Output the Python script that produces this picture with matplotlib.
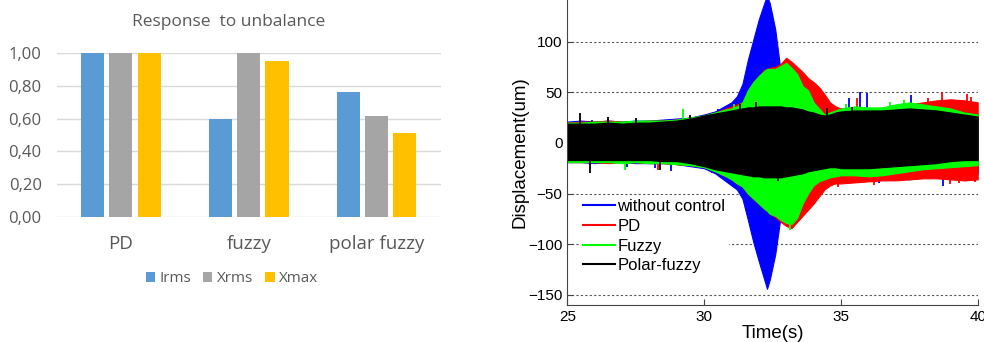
import matplotlib
matplotlib.use("Agg")
import matplotlib.pyplot as plt
from matplotlib.lines import Line2D

# ---- left panel data (bar chart) ----
categories = ["PD", "fuzzy", "polar fuzzy"]
irms = [1.00, 0.60, 0.76]
xrms = [1.00, 1.00, 0.615]
xmax = [1.00, 0.95, 0.51]
bar_ticks = [0.0, 0.2, 0.4, 0.6, 0.8, 1.0]
bar_tick_labels = ["0,00", "0,20", "0,40", "0,60", "0,80", "1,00"]

# ---- right panel data (displacement envelopes) ----
t = [25, 25.5, 26, 26.5, 27, 27.5, 28, 28.5, 29, 29.5, 30, 30.4, 30.8,
     31.0, 31.2, 31.4, 31.6, 31.8, 32.0, 32.2, 32.3, 32.4, 32.6, 32.8,
     33.0, 33.2, 33.4, 33.6, 33.8, 34.0, 34.2, 34.4, 34.6, 34.8, 35.0,
     35.5, 36, 36.5, 37, 37.5, 38, 38.5, 39, 39.5, 40]

nc_up = [21, 22, 21, 22, 21, 22, 22, 23, 24, 25, 28, 31, 37,
         40, 46, 58, 82, 102, 122, 138, 145, 138, 112, 70,
         50, 40, 38, 36, 36, 35, 34, 33, 33, 33, 34,
         34, 34, 33, 34, 36, 36, 35, 32, 30, 28]
nc_lo = [-19, -19, -20, -19, -19, -20, -20, -20, -21, -23, -25, -30, -38,
         -42, -46, -55, -76, -98, -117, -135, -144, -135, -110, -72,
         -45, -38, -36, -36, -36, -36, -36, -36, -36, -36, -36,
         -36, -35, -35, -35, -36, -34, -33, -32, -31, -30]

pd_up = [20, 21, 21, 22, 21, 21, 22, 22, 23, 25, 27, 30, 34,
         36, 38, 40, 50, 60, 66, 72, 73, 74, 75, 78,
         84, 80, 75, 70, 64, 60, 55, 48, 40, 36, 34,
         34, 33, 33, 35, 38, 40, 42, 43, 42, 40]
pd_lo = [-19, -19, -19, -20, -19, -19, -20, -20, -21, -22, -24, -28, -33,
         -36, -40, -43, -50, -55, -60, -65, -67, -70, -73, -78,
         -82, -84, -78, -72, -66, -60, -53, -46, -42, -40, -40,
         -39, -38, -37, -37, -36, -35, -35, -36, -37, -36]

fz_up = [20, 20, 21, 21, 21, 22, 22, 22, 23, 25, 27, 30, 33,
         34, 36, 40, 52, 60, 66, 71, 73, 73, 73, 76,
         79, 74, 68, 56, 52, 40, 34, 28, 30, 32, 34,
         36, 35, 35, 38, 40, 38, 36, 34, 30, 28]
fz_lo = [-19, -19, -19, -19, -20, -19, -20, -20, -21, -22, -24, -28, -33,
         -36, -40, -43, -50, -55, -60, -65, -67, -70, -72, -76,
         -79, -80, -74, -60, -50, -42, -38, -36, -34, -33, -32,
         -32, -33, -32, -30, -28, -26, -25, -24, -23, -22]

pf_up = [19, 19, 19, 20, 19, 20, 20, 21, 22, 24, 27, 29, 31,
         32, 33, 34, 35, 35, 36, 36, 36, 36, 36, 36,
         35, 35, 34, 33, 31, 30, 28, 27, 28, 30, 31,
         32, 32, 32, 33, 34, 33, 32, 30, 28, 26]
pf_lo = [-17, -17, -17, -17, -17, -17, -17, -18, -18, -20, -23, -26, -28,
         -29, -30, -31, -32, -33, -33, -34, -34, -34, -34, -34,
         -33, -32, -31, -30, -28, -27, -26, -25, -24, -24, -25,
         -25, -25, -24, -23, -22, -21, -20, -18, -17, -17]

# isolated peaks that stick out of the envelopes
nc_spike_t = [25.9, 27.2, 28.2, 28.8, 30.3, 30.5, 35.3, 35.7, 35.97, 36.4, 37.58, 38.74]
nc_spike_v = [23, -24, -25, -28, -30, 33, 44, 50, 49, -40, 47, -43]
pd_spike_t = [26.5, 28.3, 34.9, 35.6, 36.2, 38.2, 38.68, 39.0, 39.3, 39.6, 39.75, 39.9]
pd_spike_v = [24, -27, -44, 44, -42, 44, 50, -41, -40, 48, 45, -39]
fz_spike_t = [27.1, 29.24, 30.9, 31.1, 33.13, 34.3, 35.2, 36.8, 37.3]
fz_spike_v = [-27, 33, -34, 38, -86, -38, 38, 40, 42]
pf_spike_t = [25.46, 25.83, 26.5, 27.5, 28.4, 29.5, 31.3, 31.9, 32.7, 34.5, 35.4]
pf_spike_v = [29, -30, 26, 25, -27, 28, 38, 40, -38, 34, 35]

series = [
    ("without control", "#0000ff", nc_up, nc_lo, nc_spike_t, nc_spike_v),
    ("PD", "#ff0000", pd_up, pd_lo, pd_spike_t, pd_spike_v),
    ("Fuzzy", "#00ff00", fz_up, fz_lo, fz_spike_t, fz_spike_v),
    ("Polar-fuzzy", "#000000", pf_up, pf_lo, pf_spike_t, pf_spike_v),
]

fig = plt.figure(figsize=(9.84, 3.42), dpi=100)

# ---------------- left: bar chart ----------------
grey = "#595959"
ax1 = fig.add_axes([0.0579, 0.3655, 0.390, 0.4795])
x = list(range(len(categories)))
w = 0.18
off = 0.22
ax1.bar([i - off for i in x], irms, w, color="#5b9bd5", label="Irms", zorder=3)
ax1.bar(x, xrms, w, color="#a5a5a5", label="Xrms", zorder=3)
ax1.bar([i + off for i in x], xmax, w, color="#ffc000", label="Xmax", zorder=3)
ax1.set_xlim(-0.5, 2.5)
ax1.set_ylim(0, 1.0)
ax1.set_yticks(bar_ticks)
ax1.set_yticklabels(bar_tick_labels, fontfamily="Open Sans", fontsize=12, color=grey)
ax1.set_xticks(x)
ax1.set_xticklabels(categories, fontfamily="Open Sans", fontsize=13.5, color=grey)
ax1.tick_params(axis="both", length=0)
ax1.tick_params(axis="y", pad=11)
ax1.tick_params(axis="x", pad=13)
for s in ax1.spines.values():
    s.set_visible(False)
ax1.grid(axis="y", color="#d9d9d9", linewidth=1, zorder=0)
ax1.set_axisbelow(True)
fig.text(229 / 984, 1 - 22 / 342, "Response  to unbalance", ha="center", va="center",
         fontfamily="Open Sans", fontsize=12.5, color=grey)
h, l = ax1.get_legend_handles_labels()
fig.legend(h, l, loc="center", bbox_to_anchor=(232 / 984, 1 - 279 / 342), ncol=3,
           frameon=False, handlelength=0.6, handleheight=0.6, handletextpad=0.3,
           columnspacing=0.8, prop={"family": "Open Sans", "size": 11},
           labelcolor=grey)

# ---------------- right: displacement signals ----------------
ax2 = fig.add_axes([0.5765, 0.1082, 0.4171, 0.8918])
for name, c, up, lo, st, sv in series:
    ax2.fill_between(t, lo, up, color=c, linewidth=0.8, zorder=2)
    ax2.vlines(st, 0, sv, color=c, linewidth=1.3, zorder=2)
ax2.set_xlim(25, 40)
ax2.set_ylim(-160, 141)
ax2.set_xticks([25, 30, 35, 40])
ax2.set_yticks([-150, -100, -50, 0, 50, 100])
ax2.grid(axis="y", linestyle=(0, (2, 2)), color="#555555", linewidth=0.8, zorder=1)
ax2.set_axisbelow(True)
ax2.spines["top"].set_visible(False)
ax2.spines["right"].set_visible(False)
ax2.spines["left"].set_color("#444444")
ax2.spines["bottom"].set_color("#444444")
ax2.tick_params(direction="in", length=4, color="#444444", labelsize=11)
for lab in ax2.get_xticklabels() + ax2.get_yticklabels():
    lab.set_fontfamily("Liberation Sans")
ax2.set_xlabel("Time(s)", fontfamily="Liberation Sans", fontsize=13.5, labelpad=1)
ax2.set_ylabel("Displacement(um)", fontfamily="Liberation Sans", fontsize=13.5, labelpad=0)

handles = [Line2D([0], [0], color=c, linewidth=1.5) for _, c, *_ in series]
labels = [s[0] for s in series]
leg = ax2.legend(handles, labels, loc="upper left",
                 bbox_to_anchor=((580 - 567.3) / 410.4, (305 - 196) / 305),
                 frameon=True, facecolor="white", edgecolor="none", framealpha=1,
                 fancybox=False, borderpad=0.2, borderaxespad=0, labelspacing=0.28,
                 handlelength=1.9, handletextpad=0.15,
                 prop={"family": "Liberation Sans", "size": 12})
leg.set_zorder(5)

fig.savefig("out.png", dpi=100)
